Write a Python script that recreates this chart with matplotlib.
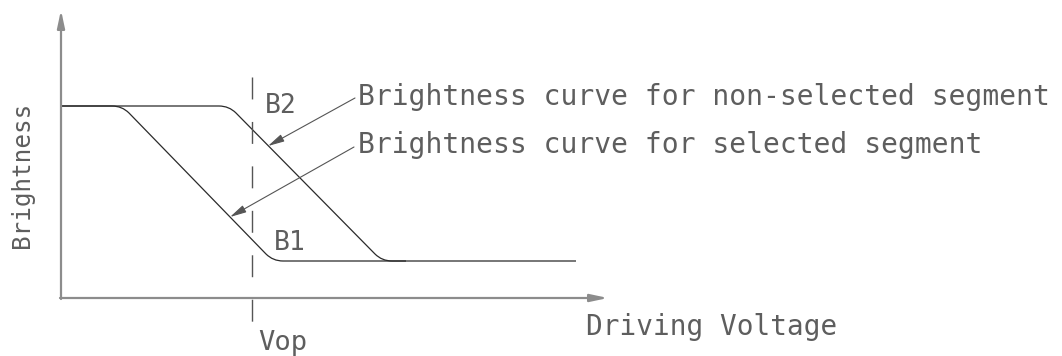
import matplotlib
matplotlib.use("Agg")
import matplotlib.pyplot as plt
from matplotlib.path import Path
from matplotlib.patches import PathPatch

# schematic units: 1 unit ~ 1 px, origin at the axis corner
FONT = "DejaVu Sans Mono"
TXT = "#5e5e5e"
INK = "#2a2a2a"
AXC = "#8c8c8c"

# axis extents (arrow tips)
x_axis_end = 547
y_axis_end = 288

# brightness curve for selected segment (B1), rounded corners as quad beziers
b1_x = [0, 51, 61, 68, 205, 212, 222, 515]
b1_y = [192, 192, 192, 185, 44, 37, 37, 37]
# brightness curve for non-selected segment (B2)
b2_x = [0, 158, 168, 175, 314, 321, 331, 345]
b2_y = [192, 192, 192, 185, 44, 37, 37, 37]
codes = [Path.MOVETO, Path.LINETO, Path.CURVE3, Path.CURVE3,
         Path.LINETO, Path.CURVE3, Path.CURVE3, Path.LINETO]

vop = 191
vop_span = (221, -24)

# leader arrows: (text end) -> (tip on curve)
leaders = [((294, 200), (207, 152)),
           ((293, 151), (169, 81))]
leader_labels = ["Brightness curve for non-selected segment",
                 "Brightness curve for selected segment"]
leader_label_pos = [(297, 193), (297, 145)]

plt.rcParams["lines.scale_dashes"] = False

fig = plt.figure(figsize=(10.62, 3.56), dpi=100)
ax = fig.add_axes([0, 0, 1, 1])
ax.set_xlim(-61, 1001)
ax.set_ylim(-58, 298)
ax.axis("off")

# axes with arrows
arrow_ax = dict(arrowstyle="-|>,head_length=0.75,head_width=0.16",
                color=AXC, lw=1.6, mutation_scale=14, shrinkA=0, shrinkB=0)
ax.annotate("", xy=(x_axis_end, 0), xytext=(-1, 0), arrowprops=arrow_ax)
ax.annotate("", xy=(0, y_axis_end), xytext=(0, -1), arrowprops=arrow_ax)

for xs, ys in [(b1_x, b1_y), (b2_x, b2_y)]:
    path = Path(list(zip(xs, ys)), codes)
    ax.add_patch(PathPatch(path, facecolor="none", edgecolor=INK, lw=0.9))

# Vop dashed line
ax.plot([vop, vop], vop_span, color="#555555", lw=1.0, dashes=(15.8, 16.2))

arrow_ld = dict(arrowstyle="-|>,head_length=0.55,head_width=0.13",
                color="#555555", lw=0.8, mutation_scale=18,
                shrinkA=0, shrinkB=0)
for (start, tip), lbl, (tx, ty) in zip(leaders, leader_labels, leader_label_pos):
    ax.annotate("", xy=tip, xytext=start, arrowprops=arrow_ld)
    ax.text(tx, ty, lbl, family=FONT, fontsize=20.2, color=TXT,
            ha="left", va="baseline")

ax.text(204, 185, "B2", family=FONT, fontsize=19, color=TXT, va="baseline")
ax.text(213, 48, "B1", family=FONT, fontsize=19, color=TXT, va="baseline")
ax.text(197, -52, "Vop", family=FONT, fontsize=19.5, color=TXT, va="baseline")
ax.text(525, -37, "Driving Voltage", family=FONT, fontsize=20, color=TXT,
        va="baseline")
ax.text(-39, 123, "Brightness", family=FONT, fontsize=17.5, color=TXT,
        rotation=90, ha="center", va="center")

fig.savefig("out.png", dpi=100)
